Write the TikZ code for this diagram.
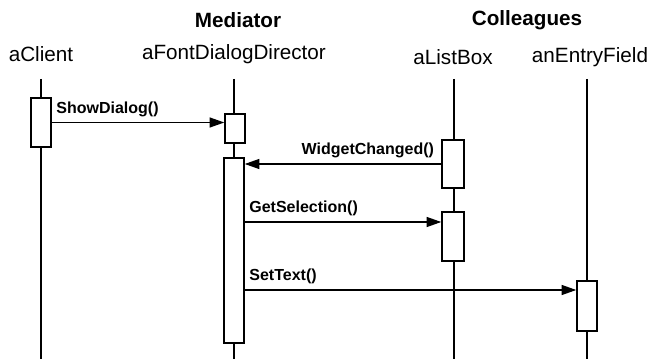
\documentclass[tikz,border=0pt]{standalone}
\usepackage{fontspec}
\setmainfont{Liberation Sans}
\usetikzlibrary{arrows.meta}

\begin{document}
\begin{tikzpicture}[x=0.75pt,y=-0.75pt,
  obj/.style={font=\fontsize{15.5}{18}\selectfont},
  role/.style={font=\bfseries\fontsize{15.5}{18}\selectfont},
  act/.style={draw,fill=white,line width=1.1pt,minimum width=15pt,inner sep=0pt},
  msg/.style={font=\bfseries\fontsize{12}{14}\selectfont,inner sep=1pt},
  call/.style={-{Triangle[length=11pt,width=7.5pt]},line width=1pt},
  life/.style={line width=1pt}]
  \useasboundingbox (0,0) rectangle (660,359);
  % roles and objects
  \node[role] (mediator) at (238,20) {Mediator};
  \node[role] (colleagues) at (527,20) {Colleagues};
  \node[obj] (client) at (41,54) {aClient};
  \node[obj] (director) at (234,54) {aFontDialogDirector};
  \node[obj] (listbox) at (453,57) {aListBox};
  \node[obj] (entry) at (590,57) {anEntryField};
  % lifelines
  \coordinate (clientTop) at (41,79);
  \coordinate (clientEnd) at (41,359);
  \coordinate (directorTop) at (234,79);
  \coordinate (directorEnd) at (234,359);
  \coordinate (listboxTop) at (454,79);
  \coordinate (listboxEnd) at (454,359);
  \coordinate (entryTop) at (587,79);
  \coordinate (entryEnd) at (587,359);
  \draw[life] (clientTop) -- (clientEnd);
  \draw[life] (directorTop) -- (directorEnd);
  \draw[life] (listboxTop) -- (listboxEnd);
  \draw[life] (entryTop) -- (entryEnd);
  % activations
  \node[act,minimum height=36.75pt] (clientAct) at (41,122.5) {};
  \node[act,minimum height=21.75pt] (dirA) at (235,128.5) {};
  \node[act,minimum height=138.75pt] (dirB) at (234,250.5) {};
  \node[act,minimum height=36pt,minimum width=16.5pt] (lbA) at (453,164) {};
  \node[act,minimum height=36.75pt,minimum width=16.5pt] (lbB) at (453,236.5) {};
  \node[act,minimum height=37.5pt] (efAct) at (587,306) {};
  % messages
  \draw[call] (clientAct.east) -- (clientAct.east -| dirA.west)
    node[msg,pos=0,anchor=south west,yshift=3pt,xshift=2pt] {ShowDialog()};
  \draw[call] (lbA.west) -- (lbA.west -| dirB.east)
    node[msg,pos=0,anchor=south east,yshift=3pt,xshift=-4pt] {WidgetChanged()};
  \draw[call] (dirB.east |- 0,222) -- (lbB.west |- 0,222)
    node[msg,pos=0,anchor=south west,yshift=3pt,xshift=2pt] {GetSelection()};
  \draw[call] (dirB.east |- 0,290) -- (efAct.west |- 0,290)
    node[msg,pos=0,anchor=south west,yshift=3pt,xshift=2pt] {SetText()};
\end{tikzpicture}
\end{document}
